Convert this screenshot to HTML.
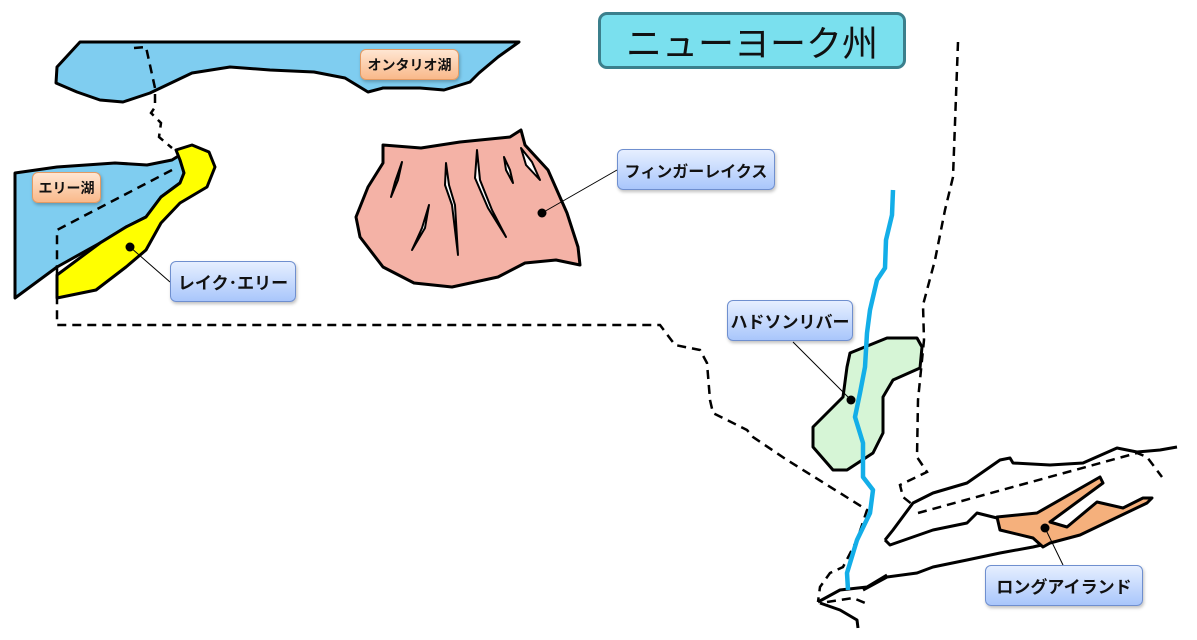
<!DOCTYPE html>
<html><head><meta charset="utf-8"><style>
html,body{margin:0;padding:0;background:#fff;width:1197px;height:640px;overflow:hidden;font-family:"Liberation Sans","Noto Sans CJK JP",sans-serif}
.lb{position:absolute;box-sizing:border-box;display:flex;align-items:center;justify-content:center;font-weight:bold;color:#111;border-radius:6px;box-shadow:1px 2px 3px rgba(0,0,0,.25)}
.blue{background:linear-gradient(#e6efff,#a9c6fb);border:1px solid #6f8fcf;font-size:17px}
.orng{background:linear-gradient(#ffe6d2,#f9b98a);border:1px solid #e39a63;font-size:14px}
</style></head><body>
<svg width="1197" height="640" style="position:absolute;left:0;top:0">
<g stroke="#000" stroke-width="3" stroke-linejoin="round">
<path d="M80,42 L519,42 L498,57 L479,73 L470,82 L444,90 L420,88 L383,88 L368,92 L345,78 L314,72 L270,70 L230,67 L192,73 L150,93 L123,102 L100,100 L77,92 L56,83 L57,67 Z" fill="#7fcdf0"/>
<path d="M15,173 L57,167 L115,163 L147,165 L172,160 L180,155 L184,173 L180,183 L161,197 L146,217 L126,227 L100,243 L57,267 L15,298 Z" fill="#7fcdf0"/>
<path d="M176,150 L192,145 L209,152 L215,167 L207,187 L180,203 L161,223 L146,250 L126,267 L96,290 L57,298 L57,275 L100,243 L126,227 L146,217 L161,197 L180,183 L184,173 L180,160 Z" fill="#ffff00"/>
<path d="M383,145 L421,148 L460,142 L510,137 L521,130 L525,145 L548,170 L567,213 L578,247 L580,265 L556,260 L525,263 L498,277 L452,287 L414,283 L383,267 L360,237 L356,217 L368,187 L383,163 Z" fill="#f4b2a6"/>
<g fill="#fff" stroke-width="2">
<path d="M402,162 L398,180 L391,197 L395,182 Z"/>
<path d="M446,163 L449,185 L455,205 L458,255 L452,205 L445,185 Z"/>
<path d="M477,150 L480,180 L492,210 L506,237 L488,208 L475,178 Z"/>
<path d="M504,157 L510,170 L513,183 L506,170 Z"/>
<path d="M521,148 L532,162 L540,180 L526,165 Z"/>
<path d="M429,205 L425,228 L412,250 L422,228 Z"/>
</g>
<path d="M850,353 L887,338 L917,338 L922,347 L920,368 L893,380 L883,397 L883,433 L873,453 L847,470 L833,470 L813,447 L813,427 L830,410 L843,397 L847,367 Z" fill="#d6f5d6"/>
<path d="M885,540 L893,530 L913,503 L933,493 L967,483 L1000,460 L1010,458 L1013,463 L1050,465 L1083,463 L1117,448 L1137,452 L1160,450 L1177,447" fill="none"/>
<path d="M885,540 L890,545 L933,530 L967,523 L977,513 L997,518" fill="none"/>
<path d="M863,590 L887,577 L917,573 L933,567 L967,560 L1000,553 L1033,547 L1050,543" fill="none"/>
<path d="M818,602 L840,590 L867,587 L887,575" fill="none"/>
<path d="M820,603 L840,610 L857,620 L858,628" fill="none"/>
<path d="M997,517 L1037,513 L1100,477 L1103,483 L1050,522 L1067,527 L1097,502 L1123,508 L1143,498 L1152,498 L1147,503 L1080,535 L1050,543 L1043,547 L1033,538 L1000,530 Z" fill="#f5b07c"/>
</g>
<g fill="none" stroke="#000" stroke-width="2.5" stroke-dasharray="9,6">
<path d="M134,48 L146,47 L155,88 L155,107 L151,113 L161,123 L159,137 L172,148"/>
<path d="M172,170 L57,230 L57,325 L660,325 L675,345 L700,350 L707,363 L710,400 L713,413 L747,430 L753,437 L787,460 L840,493 L867,510 L857,540 L843,567 L830,573 L820,587 L818,602"/>
<path d="M827,602 L853,598 L870,605"/>
<path d="M958,42 L953,177 L945,210 L935,260 L923,305 L924,340 L918,400 L917,457 L927,472 L900,485 L903,497 L913,505"/>
<path d="M918,513 L1137,453 L1147,457 L1162,477"/>
</g>
<path d="M893,190 L892,215 L886,240 L885,268 L877,280 L870,310 L867,333 L865,367 L860,393 L855,417 L863,443 L863,477 L873,490 L870,513 L857,540 L847,573 L848,590" fill="none" stroke="#13aee8" stroke-width="4.5" stroke-linejoin="round"/>
<g stroke="#000" stroke-width="1">
<line x1="130" y1="247" x2="170" y2="282"/>
<line x1="542" y1="213" x2="617" y2="170"/>
<line x1="851" y1="400" x2="793" y2="342"/>
<line x1="1045" y1="528" x2="1063" y2="565"/>
</g>
<g fill="#000"><circle cx="130" cy="247" r="4.5"/><circle cx="542" cy="213" r="4.5"/><circle cx="851" cy="400" r="4.5"/><circle cx="1045" cy="528" r="4.5"/></g>
</svg>
<div class="lb" style="left:598px;top:12px;width:308px;height:57px;background:#7ae0ee;border:3px solid #3b7f8c;border-radius:9px;font-weight:normal;font-size:36px;box-shadow:none">ニューヨーク州</div>
<div class="lb orng" style="left:360px;top:49px;width:99px;height:31px">オンタリオ湖</div>
<div class="lb orng" style="left:32px;top:172px;width:69px;height:31px">エリー湖</div>
<div class="lb blue" style="left:170px;top:261px;width:126px;height:41px">レイク･エリー</div>
<div class="lb blue" style="left:617px;top:149px;width:158px;height:41px;font-size:16px">フィンガーレイクス</div>
<div class="lb blue" style="left:727px;top:300px;width:126px;height:41px">ハドソンリバー</div>
<div class="lb blue" style="left:985px;top:565px;width:158px;height:41px">ロングアイランド</div>
</body></html>
